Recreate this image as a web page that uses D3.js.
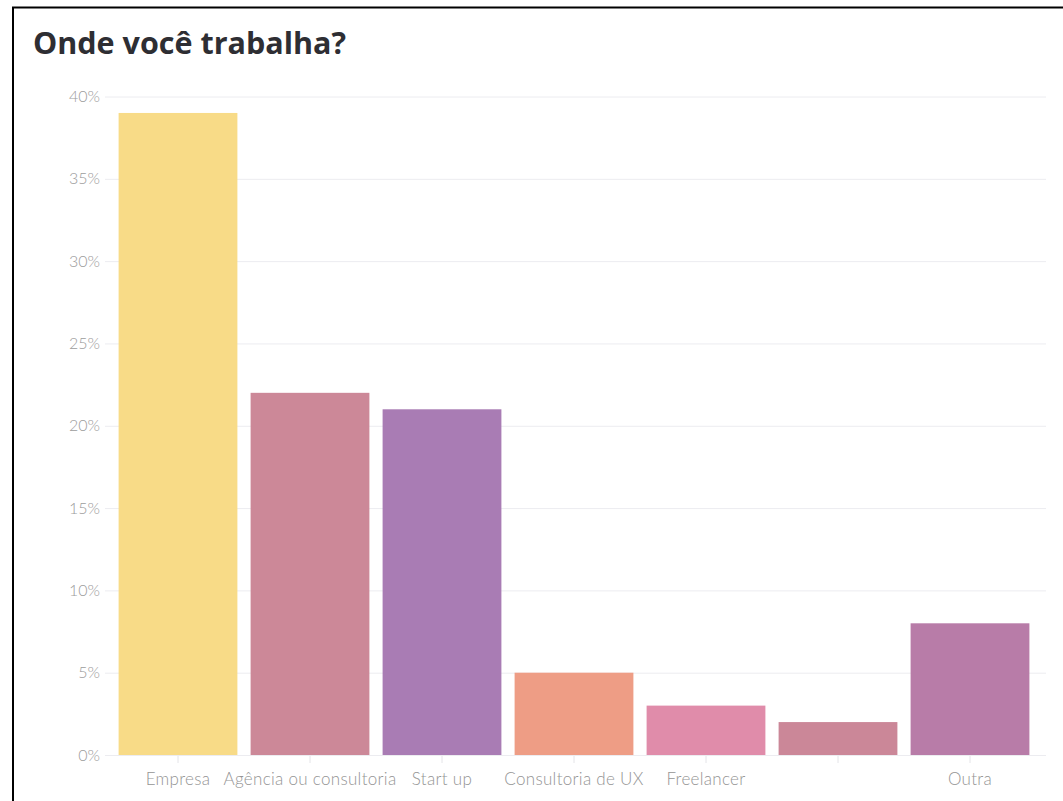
<!DOCTYPE html>
<html>
<head>
<meta charset="utf-8">
<script src="https://cdn.jsdelivr.net/npm/d3@7/dist/d3.min.js"></script>
<style>
  html, body { margin: 0; padding: 0; background: #fff; }
  svg { display: block; }
</style>
</head>
<body>
<svg id="chart" width="1063" height="801"></svg>
<script>
const title = "Onde você trabalha?";
const categories = ["Empresa", "Agência ou consultoria", "Start up", "Consultoria de UX", "Freelancer", "", "Outra"];
const values = [39, 22, 21, 5, 3, 2, 8];
const colors = ["#F8DB87", "#CC8898", "#A97CB4", "#EE9D85", "#E08CAA", "#CB8798", "#B87CA8"];
const yTicks = [0, 5, 10, 15, 20, 25, 30, 35, 40];

const svg = d3.select("#chart");
const W = 1063, H = 801;

// frame (cropped screenshot border)
svg.append("line").attr("x1", 13).attr("x2", 13).attr("y1", 7).attr("y2", H)
  .attr("stroke", "#000").attr("stroke-width", 2);
svg.append("line").attr("x1", 12).attr("x2", W).attr("y1", 7.5).attr("y2", 7.5)
  .attr("stroke", "#000").attr("stroke-width", 2);

svg.append("text").attr("x", 33).attr("y", 54)
  .attr("font-family", "'Open Sans', Lato, sans-serif")
  .attr("font-weight", "bold").attr("font-size", 30.5)
  .attr("fill", "#2e2e33").text(title);

const idx = categories.map((d, i) => i);
const x = d3.scaleBand().domain(idx).range([112, 1036]).paddingInner(0.1).paddingOuter(0.05);
const y = d3.scaleLinear().domain([0, 40]).range([755, 96.5]);

// gridlines
const yAxis = d3.axisLeft(y).tickValues(yTicks).tickFormat(d => d + "%")
  .tickSize(-(1046 - 105)).tickPadding(5);
const gy = svg.append("g").attr("transform", "translate(105,0)").call(yAxis);
gy.select(".domain").remove();
gy.selectAll(".tick line").attr("stroke", "#ececf0").attr("stroke-width", 1);
gy.selectAll(".tick text").attr("font-family", "Lato, sans-serif").attr("font-weight", 300)
  .attr("font-size", 16).attr("fill", "#9c9c9c");

// bars
svg.append("g").selectAll("rect").data(idx).join("rect")
  .attr("x", i => x(i)).attr("width", x.bandwidth())
  .attr("y", i => y(values[i])).attr("height", i => y(0) - y(values[i]))
  .attr("fill", i => colors[i]);

// x axis
const xAxis = d3.axisBottom(x).tickFormat(i => categories[i]).tickSize(7).tickPadding(10);
const gx = svg.append("g").attr("transform", "translate(0,756)").call(xAxis);
gx.select(".domain").remove();
gx.selectAll(".tick line").attr("stroke", "#e4e4e8");
gx.selectAll(".tick text").attr("font-family", "Lato, sans-serif").attr("font-weight", 300)
  .attr("font-size", 17).attr("letter-spacing", 0.3).attr("fill", "#949494");
</script>
</body>
</html>
